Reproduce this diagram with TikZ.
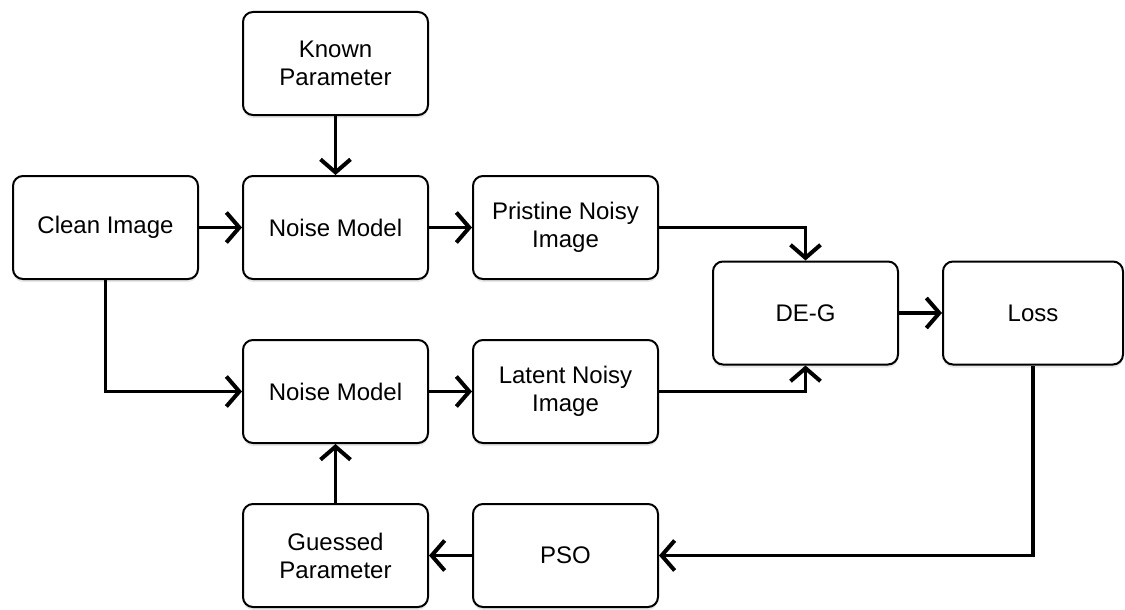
\documentclass[tikz,border=0pt]{standalone}
\usepackage{fontspec}
\setmainfont{Liberation Sans}
\usepackage{tikz}
\usetikzlibrary{arrows.meta}
\usetikzlibrary{positioning}
\usetikzlibrary{shadows}

\begin{document}
\begin{tikzpicture}[
        x=1pt, y=-1pt,
        block/.style={rectangle, rounded corners=10pt, draw=black, line width=2pt, fill=white,
            minimum width=185pt, minimum height=103pt, align=center,
            font=\fontsize{24}{28}\selectfont,
            drop shadow={opacity=0.18, shadow xshift=0pt, shadow yshift=-3pt}},
        arrow/.style={-{Straight Barb[length=13pt, width=30pt, line width=4pt]}, line width=3.5pt, black}
    ]
    \useasboundingbox (0,0) rectangle (1125,610);

    % Bloques
    \node[block] (known) at (335.5,63.5) {Known\\Parameter};
    \node[block] (clean) at (105.5,227.5) {Clean Image};
    \node[block] (noise1) at (335.5,227.5) {Noise Model};
    \node[block] (pristine) at (565.5,227.5) {Pristine Noisy\\Image};
    \node[block] (deg) at (805.5,313) {DE-G};
    \node[block, minimum width=180pt] (loss) at (1033,313) {Loss};
    \node[block] (noise2) at (335.5,391.5) {Noise Model};
    \node[block] (latent) at (565.5,391.5) {Latent Noisy\\Image};
    \node[block] (guessed) at (335.5,555.5) {Guessed\\Parameter};
    \node[block] (pso) at (565.5,555.5) {PSO};

    % Conexiones superiores
    \draw[arrow] (known) -- (noise1);
    \draw[arrow] (clean) -- (noise1);
    \draw[arrow] (noise1) -- (pristine);
    \draw[arrow] (pristine.east) -| (deg.north);
    \draw[arrow] (deg) -- (loss);

    % Conexiones inferiores
    \draw[arrow] (clean.south) |- (noise2.west);
    \draw[arrow] (noise2) -- (latent);
    \draw[arrow] (latent.east) -| (deg.south);

    % Lazo de realimentacion
    \draw[arrow] (loss.south) |- (pso.east);
    \draw[arrow] (pso) -- (guessed);
    \draw[arrow] (guessed) -- (noise2);

\end{tikzpicture}
\end{document}
